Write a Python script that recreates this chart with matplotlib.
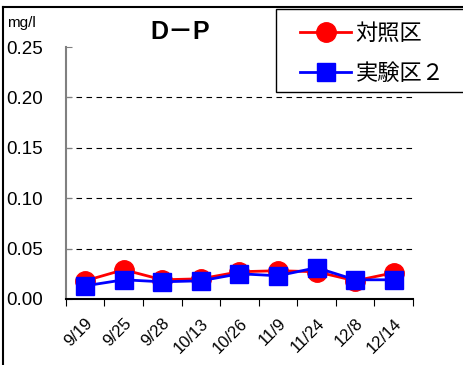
import matplotlib
matplotlib.use('Agg')
import matplotlib.pyplot as plt
from matplotlib.lines import Line2D
from matplotlib.patches import Rectangle

dates = ["9/19", "9/25", "9/28", "10/13", "10/26", "11/9", "11/24", "12/8", "12/14"]
control = [0.018, 0.029, 0.019, 0.020, 0.027, 0.028, 0.027, 0.018, 0.026]
test2 = [0.013, 0.019, 0.017, 0.018, 0.025, 0.023, 0.031, 0.019, 0.019]
yticks = [0.00, 0.05, 0.10, 0.15, 0.20, 0.25]

plt.rcParams['font.family'] = ['Liberation Sans', 'Noto Sans CJK JP', 'DejaVu Sans']

fig = plt.figure(figsize=(4.64, 3.65), dpi=100)
ax = fig.add_axes([0.142, 0.181, 0.748, 0.690])

x = list(range(len(dates)))
ax.plot(x, control, color='#ff0000', linewidth=2, marker='o', markersize=14,
        label='対照区', zorder=3)
ax.plot(x, test2, color='#0000ff', linewidth=2, marker='s', markersize=13,
        label='実験区２', zorder=4)

ax.set_xlim(-0.5, len(dates) - 0.5)
ax.set_ylim(0, 0.25)
ax.set_yticks(yticks)
ax.set_yticklabels([f"{v:.2f}" for v in yticks], fontsize=13.5, ha='left')
ax.tick_params(axis='y', direction='in', length=4, color='#808080', pad=43)
for v in yticks[1:-1]:
    ax.axhline(v, color='black', linestyle=(0, (5, 4)), linewidth=0.8, zorder=1)

ax.set_xticks([i - 0.5 for i in range(len(dates) + 1)])
ax.set_xticklabels([])
ax.set_xticks(x, minor=True)
ax.set_xticklabels(dates, minor=True, rotation=45, ha='right', va='top',
                   fontsize=12, rotation_mode='anchor')
ax.tick_params(axis='x', which='major', direction='out', length=5, color='black')
ax.tick_params(axis='x', which='minor', length=0, pad=12)

for s in ['top', 'right']:
    ax.spines[s].set_visible(False)
ax.spines['left'].set_color('#808080')
ax.spines['left'].set_linewidth(1.5)
ax.spines['bottom'].set_linewidth(1.5)

fig.text(0.388, 0.912, 'D－P', fontsize=18, fontweight='bold', ha='center', va='center')
fig.text(0.015, 0.937, 'mg/l', fontsize=11, ha='left', va='center')

# legend box runs past the right edge
fig.add_artist(Rectangle((276 / 464, 1 - 92 / 365), 200 / 464, 83 / 365,
                         transform=fig.transFigure, facecolor='white',
                         edgecolor='black', linewidth=1.0, zorder=5))
leg = fig.legend(loc='upper left', bbox_to_anchor=(300 / 464, 1 - 22 / 365), fontsize=16,
                 frameon=False, handlelength=2.3, borderpad=0, borderaxespad=0,
                 labelspacing=0.75, handletextpad=0.2)
leg.set_zorder(6)
for t in leg.get_texts():
    t.set_family(['Noto Sans CJK JP', 'DejaVu Sans'])

fig.add_artist(Line2D([0.007, 0.007], [0, 0.98], color='black', linewidth=1.5))
fig.add_artist(Line2D([0.007, 1.0], [0.98, 0.98], color='black', linewidth=1.5))

fig.savefig('out.png', dpi=100)
